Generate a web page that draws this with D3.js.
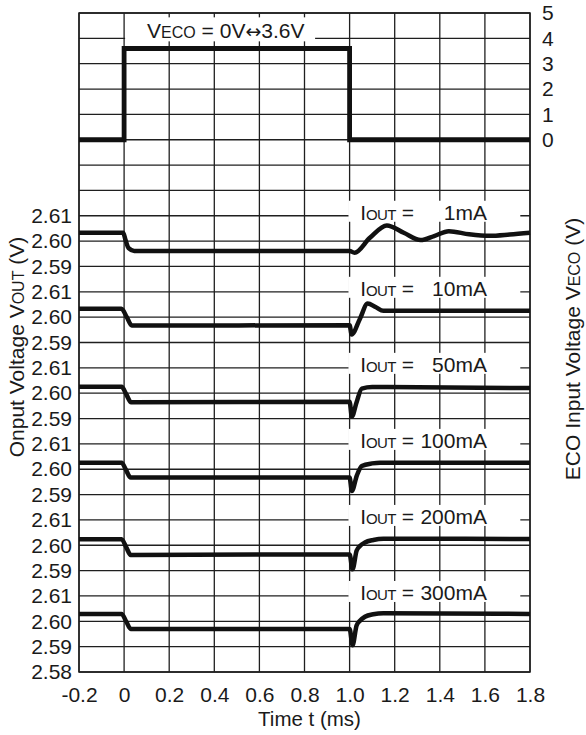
<!DOCTYPE html>
<html>
<head>
<meta charset="utf-8">
<script src="https://cdn.jsdelivr.net/npm/d3@7"></script>
<style>
  html, body { margin: 0; padding: 0; background: #fff; }
  svg { display: block; }
  text { font-family: "Liberation Sans", Arial, Helvetica, sans-serif; fill: #1a1a1a; }
</style>
</head>
<body>
<svg id="chart" width="586" height="735"></svg>
<script>
// ---------- data ----------
const xTicks = [-0.2, 0, 0.2, 0.4, 0.6, 0.8, 1.0, 1.2, 1.4, 1.6, 1.8];
const xTickLabels = ["-0.2", "0", "0.2", "0.4", "0.6", "0.8", "1.0", "1.2", "1.4", "1.6", "1.8"];
const ecoTicks = [0, 1, 2, 3, 4, 5];
const voutTicks = [2.61, 2.60, 2.59];
const voutBottomTick = 2.58;

// ECO input step
const ecoT = [-0.2, 0, 0, 1.0, 1.0, 1.8];
const ecoV = [0, 0, 3.6, 3.6, 0, 0];

// Output voltage traces (time in ms, volts)
const iLabels = ["1mA", "10mA", "50mA", "100mA", "200mA", "300mA"];

const t1mA = [-0.2, -0.004, 0.006, 0.02, 0.045, 1.0, 1.022, 1.09, 1.165, 1.24, 1.315, 1.375, 1.44, 1.53, 1.62, 1.71, 1.8];
const v1mA = [2.6033, 2.6033, 2.6005, 2.5972, 2.5961, 2.5961, 2.5954, 2.6013, 2.6062, 2.6033, 2.6004, 2.6020, 2.6039, 2.6027, 2.6021, 2.6026, 2.6033];

const t10mA = [-0.2, -0.012, 0.012, 0.034, 1.0, 1.009, 1.046, 1.08, 1.115, 1.15, 1.8];
const v10mA = [2.6033, 2.6033, 2.6000, 2.5967, 2.5968, 2.5932, 2.5994, 2.6054, 2.6040, 2.6025, 2.6025];

const t50mA = [-0.2, -0.011, 0.010, 0.031, 1.0, 1.01, 1.031, 1.054, 1.1, 1.8];
const v50mA = [2.6025, 2.6025, 2.5995, 2.5964, 2.5966, 2.5908, 2.5964, 2.6018, 2.6024, 2.6020];

const t100mA = [-0.2, -0.011, 0.009, 0.029, 1.0, 1.01, 1.032, 1.054, 1.1, 1.135, 1.8];
const v100mA = [2.6026, 2.6026, 2.5996, 2.5967, 2.5967, 2.5914, 2.5975, 2.6013, 2.6023, 2.6026, 2.6026];

const t200mA = [-0.2, -0.011, 0.009, 0.029, 1.0, 1.013, 1.031, 1.046, 1.068, 1.105, 1.15, 1.8];
const v200mA = [2.6024, 2.6024, 2.5993, 2.5962, 2.5964, 2.5905, 2.5978, 2.5997, 2.6011, 2.6021, 2.6026, 2.6025];

const t300mA = [-0.2, -0.011, 0.009, 0.029, 1.0, 1.013, 1.031, 1.046, 1.068, 1.105, 1.15, 1.8];
const v300mA = [2.6029, 2.6029, 2.6000, 2.5970, 2.5970, 2.5906, 2.5983, 2.6002, 2.6018, 2.6028, 2.6032, 2.6029];

const traceT = [t1mA, t10mA, t50mA, t100mA, t200mA, t300mA];
const traceV = [v1mA, v10mA, v50mA, v100mA, v200mA, v300mA];

// ---------- layout ----------
const svg = d3.select("#chart");
const L = 79, R = 530, T = 13, B = 672;
const FS = 21, FSsmall = 16, FSout = 14;
const gridColor = "#1f1f1f";

const x = d3.scaleLinear().domain([-0.2, 1.8]).range([L, R]);
const nUnits = 26;
const u = d3.scaleLinear().domain([0, nUnits]).range([B, T]);          // grid units
const yEco = d3.scaleLinear().domain([0, 5]).range([u(21), u(26)]);
const yGroup = j => d3.scaleLinear().domain([2.58, 2.61]).range([u(15 - 3 * j), u(18 - 3 * j)]);

// ---------- grid ----------
const grid = svg.append("g").attr("stroke", gridColor).attr("stroke-width", 1.3);
grid.selectAll("line.h").data(d3.range(0, nUnits + 1)).enter().append("line")
  .attr("x1", L).attr("x2", R).attr("y1", d => u(d)).attr("y2", d => u(d));
grid.selectAll("line.v").data(xTicks).enter().append("line")
  .attr("x1", d => x(d)).attr("x2", d => x(d)).attr("y1", T).attr("y2", B);

// white label boxes
const boxes = svg.append("g").attr("fill", "#fff");
boxes.append("rect")
  .attr("x", x(0) + 1).attr("width", x(0.847) - x(0) - 1)
  .attr("y", yEco(4) - 21).attr("height", 24);
iLabels.forEach((lab, j) => {
  const yj = yGroup(j)(2.61);
  boxes.append("rect")
    .attr("x", x(0.995)).attr("width", x(1.757) - x(0.995))
    .attr("y", yj - 15).attr("height", 21);
});

// frame
svg.append("rect").attr("x", L).attr("y", T).attr("width", R - L).attr("height", B - T)
  .attr("fill", "none").attr("stroke", gridColor).attr("stroke-width", 1.5);

// ---------- axes (labels) ----------
const xAxis = d3.axisBottom(x).tickValues(xTicks).tickFormat((d, i) => xTickLabels[i])
  .tickSize(0).tickPadding(15);
const gx = svg.append("g").attr("transform", `translate(0,${B})`).call(xAxis);
gx.select(".domain").remove();
gx.selectAll("text").attr("font-size", FS).attr("font-family", null);

const ecoAxis = d3.axisRight(yEco).tickValues(ecoTicks).tickFormat(d3.format("d"))
  .tickSize(0).tickPadding(12);
const ge = svg.append("g").attr("transform", `translate(${R},0)`).call(ecoAxis);
ge.select(".domain").remove();
ge.selectAll("text").attr("font-size", FS).attr("font-family", null);

iLabels.forEach((lab, j) => {
  const vals = j === iLabels.length - 1 ? voutTicks.concat([voutBottomTick]) : voutTicks;
  const ax = d3.axisLeft(yGroup(j)).tickValues(vals).tickFormat(d3.format(".2f"))
    .tickSize(0).tickPadding(7);
  const g = svg.append("g").attr("transform", `translate(${L},0)`).call(ax);
  g.select(".domain").remove();
  g.selectAll("text").attr("font-size", FS).attr("font-family", null);
});

// ---------- traces ----------
const lineEco = d3.line().x(d => x(d[0])).y(d => yEco(d[1]));
svg.append("path")
  .attr("d", lineEco(ecoT.map((t, i) => [t, ecoV[i]])))
  .attr("fill", "none").attr("stroke", "#111").attr("stroke-width", 4.8)
  .attr("stroke-linejoin", "miter");

traceT.forEach((ts, j) => {
  const y = yGroup(j);
  const line = d3.line().x(d => x(d[0])).y(d => y(d[1])).curve(d3.curveMonotoneX);
  svg.append("path")
    .attr("d", line(ts.map((t, i) => [t, traceV[j][i]])))
    .attr("fill", "none").attr("stroke", "#111").attr("stroke-width", 4.5)
    .attr("stroke-linejoin", "round").attr("stroke-linecap", "butt");
});

// ---------- annotation texts ----------
const title = svg.append("text").attr("x", x(0.102)).attr("y", yEco(4)).attr("font-size", FS);
title.append("tspan").text("V");
title.append("tspan").attr("font-size", FSsmall).text("ECO");
title.append("tspan").text(" = 0V");
title.append("tspan").attr("font-family", "DejaVu Sans").attr("font-size", 19).text("\u2194");
title.append("tspan").text("3.6V");

iLabels.forEach((lab, j) => {
  const yj = yGroup(j)(2.61) + 4;
  const t = svg.append("text").attr("x", x(1.047)).attr("y", yj).attr("font-size", FS);
  t.append("tspan").text("I");
  t.append("tspan").attr("font-size", FSout).attr("font-size", 15).attr("letter-spacing", -0.6).text("OUT");
  t.append("tspan").text(" =");
  svg.append("text").attr("x", x(1.609)).attr("y", yj).attr("font-size", FS)
    .attr("text-anchor", "end").text(lab);
});

// axis titles
svg.append("text").attr("x", (L + R) / 2 + 5).attr("y", 726).attr("font-size", 20.5)
  .attr("text-anchor", "middle").text("Time t (ms)");

const yt = svg.append("text").attr("transform", "translate(24,347) rotate(-90)")
  .attr("font-size", FS).attr("text-anchor", "middle");
yt.append("tspan").text("Onput Voltage V");
yt.append("tspan").attr("font-size", FSsmall).text("OUT");
yt.append("tspan").text(" (V)");

const rt = svg.append("text").attr("transform", "translate(580,349) rotate(-90)")
  .attr("font-size", FS).attr("text-anchor", "middle");
rt.append("tspan").text("ECO Input Voltage V");
rt.append("tspan").attr("font-size", FSsmall).text("ECO");
rt.append("tspan").text(" (V)");
</script>
</body>
</html>
